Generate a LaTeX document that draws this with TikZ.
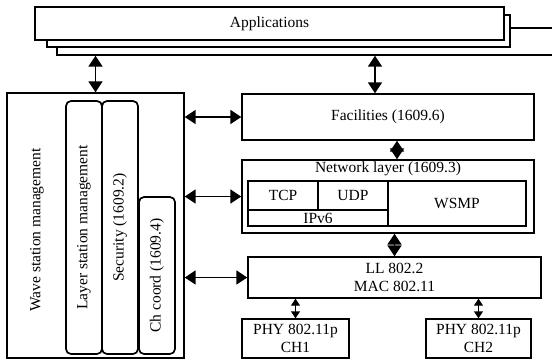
\documentclass[tikz,border=0pt]{standalone}
\usepackage{fontspec}
\setmainfont{Liberation Serif}
\usetikzlibrary{arrows.meta}
\begin{document}
\begin{tikzpicture}[x=1pt,y=-1pt,
  every node/.style={inner sep=0pt, font=\fontsize{15.5}{18}\selectfont},
  wh/.style 2 args={minimum width=#1pt, minimum height=#2pt},
  box/.style={draw, line width=1.4pt, fill=white, align=center},
  rbox/.style={box, rounded corners=5pt, line width=1.7pt},
  dar/.style={{Triangle[width=14pt,length=11pt]}-{Triangle[width=14pt,length=11pt]}, line width=1.7pt},
  sdar/.style={{Triangle[width=9pt,length=7pt]}-{Triangle[width=9pt,length=7pt]}, line width=1.4pt}]
\useasboundingbox (0,0) rectangle (552,360);
% applications stack
\node [box, wh={505}{27}] (app3) at (309.5,41.5) {};
\node [box, wh={463}{32}] (app2) at (278.5,31) {};
\node [box, wh={469}{33}] (app1) at (269.5,23.5) {Applications};
% management side
\node [box, wh={177}{265}] (wave) at (95.5,225.5) {};
\node [rotate=90] (wavetxt) at (37,230) {Wave station management};
\node [rbox, wh={253}{36}, rotate=90] (lsm) at (84,227.5) {Layer station management};
\node [rbox, wh={253}{36}, rotate=90] (sec) at (120,227.5) {Security (1609.2)};
\node [rbox, wh={157}{36}, rotate=90] (chc) at (157,275.5) {Ch coord (1609.4)};
% protocol stack
\node [box, wh={292}{46}] (fac) at (388,117) {Facilities (1609.6)};
\node [box, wh={292}{73}] (net) at (388,196.5) {};
\node [anchor=north, inner sep=2pt] (netlbl) at (net.north) {Network layer (1609.3)};
\node [box, wh={70}{29}] (tcp) at (283,195.5) {TCP};
\node [box, wh={70}{29}] (udp) at (353,195.5) {UDP};
\node [box, wh={140}{16}] (ipv6) at (318,218) {IPv6};
\node [box, wh={138}{45}] (wsmp) at (457,203.5) {WSMP};
\node [box, wh={293}{41}] (ll) at (394.5,277.5) {LL 802.2\\MAC 802.11};
\node [box, wh={107}{39}] (phy1) at (295.5,338.5) {PHY 802.11p\\CH1};
\node [box, wh={105}{39}] (phy2) at (478.5,338.5) {PHY 802.11p\\CH2};
% connectors
\draw [dar] (wave.north |- app3.south) -- (wave.north);
\draw [dar] ([xshift=-13pt]fac.north |- app3.south) -- ([xshift=-13pt]fac.north);
\draw [dar] ([xshift=9pt]fac.south) -- ([xshift=9pt]net.north);
\draw [dar] (net.south -| ll.north) -- (ll.north);
\draw [sdar] (phy1.north |- ll.south) -- (phy1.north);
\draw [sdar] (phy2.north |- ll.south) -- (phy2.north);
\draw [dar] (wave.east |- fac.west) -- (fac.west);
\draw [dar] (wave.east |- net.west) -- (net.west);
\draw [dar] (wave.east |- ll.west) -- (ll.west);
\end{tikzpicture}
\end{document}
